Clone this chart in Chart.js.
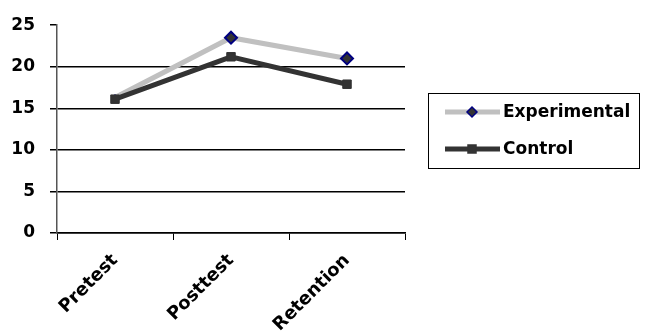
<!DOCTYPE html>
<html lang="en">
<head>
  <meta charset="UTF-8" />
  <title>Experimental vs Control</title>
  <script src="https://cdn.jsdelivr.net/npm/chart.js"></script>
  <style>
    html, body { margin: 0; padding: 0; background: #fff; }
    #wrap { width: 649px; height: 336px; }
  </style>
</head>
<body>
  <div id="wrap"><canvas id="grafico"></canvas></div>
  <script>
    const categorias = ["Pretest", "Posttest", "Retention"];
    const experimental = [16.3, 23.5, 21.0];
    const control = [16.1, 21.2, 17.9];
    const yTicks = [0, 5, 10, 15, 20, 25];

    const fuente = "'DejaVu Sans', sans-serif";

    // legend box drawn by hand (Chart.js legend has no frame)
    const leyendaCaja = {
      id: "leyendaCaja",
      afterDraw(chart) {
        const ctx = chart.ctx;
        ctx.save();
        ctx.strokeStyle = "#000";
        ctx.lineWidth = 1;
        ctx.strokeRect(428.5, 93.5, 211, 75);
        const filas = [
          { ds: chart.data.datasets[0], y: 112 },
          { ds: chart.data.datasets[1], y: 149 }
        ];
        filas.forEach(f => {
          ctx.strokeStyle = f.ds.borderColor;
          ctx.lineWidth = f.ds.borderWidth;
          ctx.beginPath();
          ctx.moveTo(445, f.y);
          ctx.lineTo(500, f.y);
          ctx.stroke();
          ctx.fillStyle = f.ds.pointBackgroundColor;
          ctx.strokeStyle = f.ds.pointBorderColor;
          ctx.lineWidth = 1.5;
          const r = 5;
          ctx.beginPath();
          if (f.ds.pointStyle === "rectRot") {
            ctx.moveTo(472, f.y - r);
            ctx.lineTo(472 + r, f.y);
            ctx.lineTo(472, f.y + r);
            ctx.lineTo(472 - r, f.y);
            ctx.closePath();
          } else {
            ctx.rect(472 - 4, f.y - 4, 8, 8);
          }
          ctx.fill();
          ctx.stroke();
          ctx.fillStyle = "#000";
          ctx.font = "bold 17px " + fuente;
          ctx.textBaseline = "middle";
          ctx.fillText(f.ds.label, 503, f.y + 1);
        });
        ctx.restore();
      }
    };

    new Chart(document.getElementById("grafico"), {
      type: "line",
      data: {
        labels: categorias,
        datasets: [
          {
            label: "Experimental",
            data: experimental,
            borderColor: "#c0c0c0",
            borderWidth: 5,
            pointStyle: "rectRot",
            pointRadius: [2, 6, 6],
            pointBackgroundColor: "#333333",
            pointBorderColor: "#000080",
            pointBorderWidth: 2,
            tension: 0,
            order: 1
          },
          {
            label: "Control",
            data: control,
            borderColor: "#333333",
            borderWidth: 5,
            pointStyle: "rect",
            pointRadius: 6,
            pointBackgroundColor: "#333333",
            pointBorderColor: "#333333",
            pointBorderWidth: 1,
            tension: 0,
            order: 0
          }
        ]
      },
      options: {
        responsive: true,
        maintainAspectRatio: false,
        animation: false,
        layout: { padding: { top: 22, right: 244, left: 0, bottom: 0 } },
        plugins: {
          legend: { display: false },
          tooltip: { enabled: false }
        },
        scales: {
          x: {
            offset: true,
            afterFit: s => { s.height = 103; },
            grid: {
              offset: true,
              drawOnChartArea: false,
              drawTicks: true,
              tickLength: 7,
              color: "#000"
            },
            border: { color: "#000", width: 1.5 },
            ticks: {
              color: "#000",
              font: { family: fuente, size: 18, weight: "bold" },
              maxRotation: 45,
              minRotation: 45,
              padding: 10
            }
          },
          y: {
            min: 0,
            max: 25,
            afterFit: s => { s.width = 57; },
            afterBuildTicks: s => { s.ticks = yTicks.map(v => ({ value: v })); },
            grid: {
              color: c => (c.tick && c.tick.value === 25 ? "rgba(0,0,0,0)" : "#000"),
              lineWidth: 1.5,
              tickColor: "#000",
              tickLength: 7
            },
            border: { color: "#555", width: 1.5 },
            ticks: {
              color: "#000",
              font: { family: fuente, size: 17, weight: "bold" },
              padding: 15
            }
          }
        }
      },
      plugins: [leyendaCaja]
    });
  </script>
</body>
</html>
